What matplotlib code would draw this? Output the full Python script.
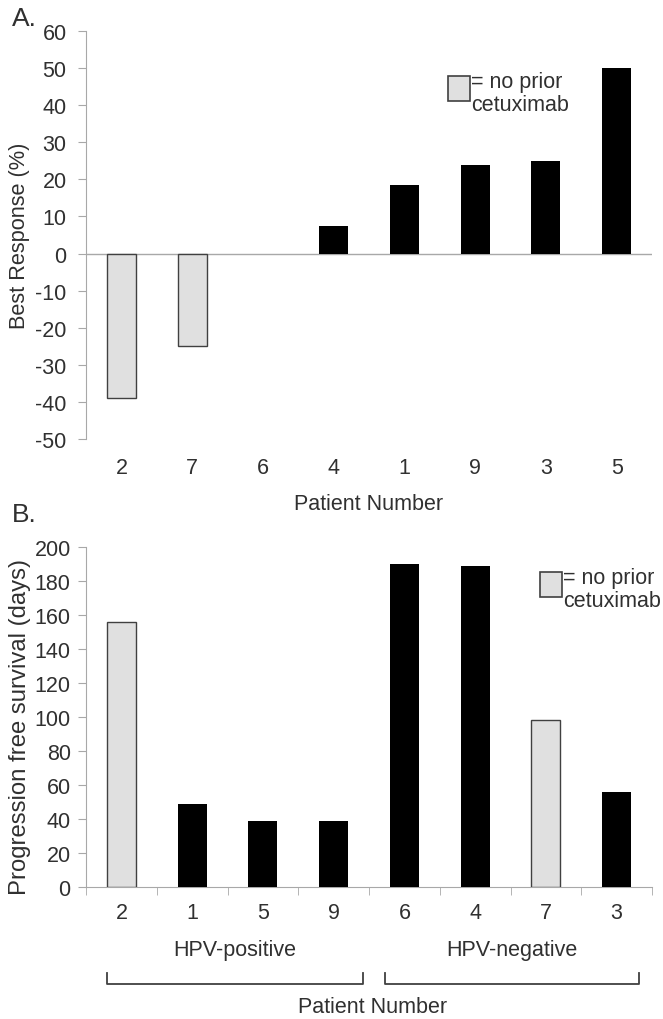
import matplotlib
matplotlib.use("Agg")
import matplotlib.pyplot as plt
from matplotlib.patches import Rectangle
from matplotlib.lines import Line2D
import matplotlib.transforms as mtransforms

plt.rcParams['font.family'] = ['Liberation Sans', 'DejaVu Sans']
plt.rcParams['axes.unicode_minus'] = False

# Panel A data
a_patients = ['2', '7', '6', '4', '1', '9', '3', '5']
a_response = [-39, -25, 0, 7.5, 18.5, 24, 25, 50]
a_no_prior = [True, True, False, False, False, False, False, False]

# Panel B data
b_patients = ['2', '1', '5', '9', '6', '4', '7', '3']
b_pfs = [156, 49, 39, 39, 190, 189, 98, 56]
b_no_prior = [True, False, False, False, False, False, True, False]
b_groups = ['HPV-positive', 'HPV-negative']

GRAY = '#e0e0e0'
EDGE = '#404040'
TXT = '#303030'
AX = '#a8a8a8'
FS = 15.5

W, H = 663, 1020
fig = plt.figure(figsize=(W / 100, H / 100), dpi=100)


def rect(l, t, r, b):
    return [l / W, 1 - b / H, (r - l) / W, (b - t) / H]


def style(ax, pad):
    for s in ['top', 'right', 'bottom']:
        ax.spines[s].set_visible(False)
    ax.spines['left'].set_color(AX)
    ax.tick_params(axis='y', colors=AX, labelcolor=TXT, labelsize=FS, length=6, direction='out', pad=pad)


def legend(x0, y0):
    fig.patches.append(Rectangle((x0 / W, 1 - (y0 + 25) / H), 22 / W, 25 / H,
                                 facecolor=GRAY, edgecolor=EDGE, lw=1.2,
                                 transform=fig.transFigure, figure=fig))
    fig.text((x0 + 23) / W, 1 - (y0 - 5) / H, '= no prior\ncetuximab', ha='left', va='top',
             fontsize=FS, color=TXT, linespacing=1.1)


def bar_style(flags):
    colors = [GRAY if g else 'black' for g in flags]
    edges = [EDGE if g else 'black' for g in flags]
    lws = [1.0 if g else 0.0 for g in flags]
    return colors, edges, lws


def ylabel(text, xc, yc, size):
    fig.text(xc / W, 1 - yc / H, text, rotation=90, ha='center', va='center',
             fontsize=size, color=TXT)


# ---------- Panel A ----------
axA = fig.add_axes(rect(86, 32, 652, 440))
xs = list(range(len(a_patients)))
c, e, lw = bar_style(a_no_prior)
axA.bar(xs, a_response, width=0.41, color=c, edgecolor=e, linewidth=lw, zorder=3)
axA.axhline(0, color=AX, lw=1.0, zorder=2)
axA.set_xlim(-0.5, 7.5)
axA.set_ylim(-50, 60)
axA.set_yticks(range(-50, 61, 10))
axA.set_xticks(xs)
axA.set_xticklabels(a_patients)
axA.tick_params(axis='x', length=0, labelsize=FS, labelcolor=TXT, pad=13)
style(axA, 8)
ylabel('Best Response (%)', 20, 236, 15.7)
axA.set_xlabel('Patient Number', fontsize=FS, color=TXT, labelpad=11)
fig.text(12 / W, 1 - 7 / H, 'A.', fontsize=19, color=TXT, ha='left', va='top')
legend(448, 77)

# ---------- Panel B ----------
axB = fig.add_axes(rect(86, 548, 652, 888))
xs = list(range(len(b_patients)))
c, e, lw = bar_style(b_no_prior)
axB.bar(xs, b_pfs, width=0.41, color=c, edgecolor=e, linewidth=lw, zorder=3)
axB.set_xlim(-0.5, 7.5)
axB.set_ylim(0, 200)
axB.set_yticks(range(0, 201, 20))
axB.set_xticks(xs)
axB.set_xticklabels(b_patients)
axB.set_xticks([i + 0.5 for i in range(-1, 8)], minor=True)
style(axB, 5)
axB.spines['bottom'].set_visible(True)
axB.spines['bottom'].set_color(AX)
axB.tick_params(axis='x', which='major', length=0, labelsize=FS, labelcolor=TXT, pad=11)
axB.tick_params(axis='x', which='minor', length=6, color=AX)
ylabel('Progression free survival (days)', 20, 727, 17.2)
fig.text(12 / W, 1 - 503 / H, 'B.', fontsize=19, color=TXT, ha='left', va='top')
legend(540, 573)

trans = mtransforms.blended_transform_factory(axB.transData, fig.transFigure)
yb = 1 - 985 / H
yt = 1 - 974 / H
for (x0, x1), label in zip([(-0.2, 3.41), (3.72, 7.32)], b_groups):
    fig.lines.append(Line2D([x0, x0, x1, x1], [yt, yb, yb, yt], transform=trans, color=EDGE, lw=1.3))
    fig.text((x0 + x1) / 2, 1 - 951 / H, label, transform=trans, ha='center', va='center',
             fontsize=FS, color=TXT)
fig.text(373 / W, 1 - 1008 / H, 'Patient Number', ha='center', va='center', fontsize=FS, color=TXT)

fig.savefig('out.png', dpi=100)
